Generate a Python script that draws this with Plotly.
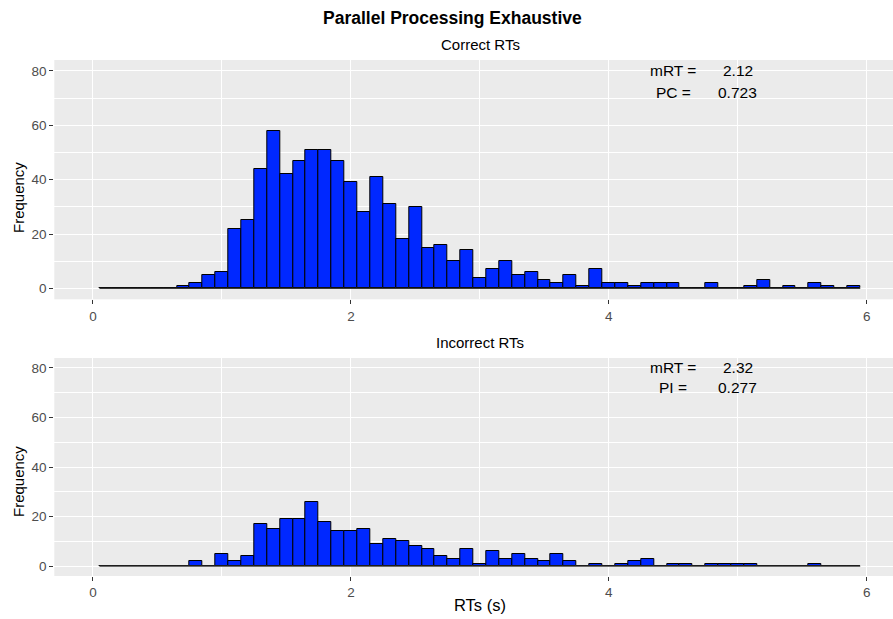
import plotly.graph_objects as go

# Histogram bins: width 0.1 s, centres 0.1 ... 5.9
bin_width = 0.1
bin_centers = [round(bin_width * i, 1) for i in range(1, 60)]

correct_counts = [0, 0, 0, 0, 0, 0,
                  1, 2, 5, 6, 22, 25, 44, 58, 42, 47,
                  51, 51, 47, 39, 28, 41, 31, 18, 30, 15,
                  16, 10, 14, 4, 7, 10, 5, 6, 3, 2,
                  5, 1, 7, 2, 2, 1, 2, 2, 2, 0,
                  0, 2, 0, 0, 1, 3, 0, 1, 0, 2,
                  1, 0, 1]

incorrect_counts = [0, 0, 0, 0, 0, 0, 0,
                    2, 0, 5, 2, 4, 17, 15, 19, 19, 26,
                    18, 14, 14, 15, 9, 11, 10, 8, 7, 4,
                    3, 7, 1, 6, 3, 5, 3, 2, 5, 2,
                    0, 1, 0, 1, 2, 3, 0, 1, 1, 0,
                    1, 1, 1, 1, 0, 0, 0, 0, 1, 0,
                    0, 0]

panel_titles = ["Correct RTs", "Incorrect RTs"]
stat_labels = [["mRT =", "PC ="], ["mRT =", "PI ="]]
stat_values = [["2.12", "0.723"], ["2.32", "0.277"]]

x_ticks = [0, 2, 4, 6]
x_minor = [1, 3, 5]
y_ticks = [0, 20, 40, 60, 80]
y_minor = [10, 30, 50, 70]

W, H = 893, 619
FONT = "Liberation Sans, Arial, sans-serif"
PANEL_BG = "#EBEBEB"
BAR_FILL = "#0028FF"


def px_x(p):
    return p / W


def px_y(p):
    return 1 - p / H


panels = [(60, 299.3), (358, 576)]
ytitle_centres = [198, 482]
x_left = 54.3

fig = go.Figure()

for i, counts in enumerate([correct_counts, incorrect_counts]):
    xa = "x" if i == 0 else "x2"
    ya = "y" if i == 0 else "y2"
    fig.add_trace(go.Bar(
        x=bin_centers, y=counts, width=bin_width,
        marker=dict(color=BAR_FILL, line=dict(color="black", width=1)),
        xaxis=xa, yaxis=ya, showlegend=False, hoverinfo="x+y",
    ))
    # outline of empty bins along the baseline
    fig.add_trace(go.Scatter(
        x=[bin_centers[0] - bin_width / 2, bin_centers[-1] + bin_width / 2],
        y=[0, 0], mode="lines",
        line=dict(color="#3a3a3a", width=1.3),
        xaxis=xa, yaxis=ya, showlegend=False, hoverinfo="skip",
    ))

axis_common = dict(
    showgrid=True, gridcolor="white", gridwidth=1.3,
    zeroline=False, showline=False,
    ticks="outside", ticklen=4, tickwidth=1, tickcolor="#333333",
    tickfont=dict(family=FONT, size=13.5, color="#4D4D4D"),
)

layout = dict(
    width=W, height=H,
    margin=dict(l=0, r=0, t=0, b=0),
    paper_bgcolor="white", plot_bgcolor=PANEL_BG,
    bargap=0, showlegend=False,
    font=dict(family=FONT),
)

for i, (top, bot) in enumerate(panels):
    sfx = "" if i == 0 else "2"
    layout["xaxis" + sfx] = dict(
        axis_common,
        domain=[px_x(x_left), 1.0],
        range=[-0.3, 6.204],
        tickvals=x_ticks,
        minor=dict(tickvals=x_minor, showgrid=True, gridcolor="white", gridwidth=0.6, ticks=""),
        anchor="y" + sfx,
    )
    layout["yaxis" + sfx] = dict(
        axis_common,
        domain=[px_y(bot), px_y(top)],
        range=[-4, 84],
        tickvals=y_ticks,
        minor=dict(tickvals=y_minor, showgrid=True, gridcolor="white", gridwidth=0.6, ticks=""),
        anchor="x" + sfx,
    )

fig.update_layout(**layout)


def label(text, x, y, size, xref="paper", yref="paper", angle=0):
    return dict(text=text, x=x, y=y, xref=xref, yref=yref, showarrow=False,
                xanchor="center", yanchor="middle", textangle=angle,
                font=dict(family=FONT, size=size, color="black"))


annotations = [
    label("<b>Parallel Processing Exhaustive</b>", px_x(452), px_y(18), 17.5),
    label("RTs (s)", px_x(480), px_y(605), 16.5),
]
subtitle_y = [44, 342]
for i, (top, bot) in enumerate(panels):
    sfx = "" if i == 0 else "2"
    annotations.append(label(panel_titles[i], px_x(480), px_y(subtitle_y[i]), 15))
    annotations.append(label("Frequency", px_x(18), px_y(ytitle_centres[i]), 15, angle=-90))
    for j, yv in enumerate([80, 72]):
        annotations.append(label(stat_labels[i][j], 4.5, yv, 15.5, "x" + sfx, "y" + sfx))
        annotations.append(label(stat_values[i][j], 5.0, yv, 15.5, "x" + sfx, "y" + sfx))

fig.update_layout(annotations=annotations)

fig.write_html("out.html")
